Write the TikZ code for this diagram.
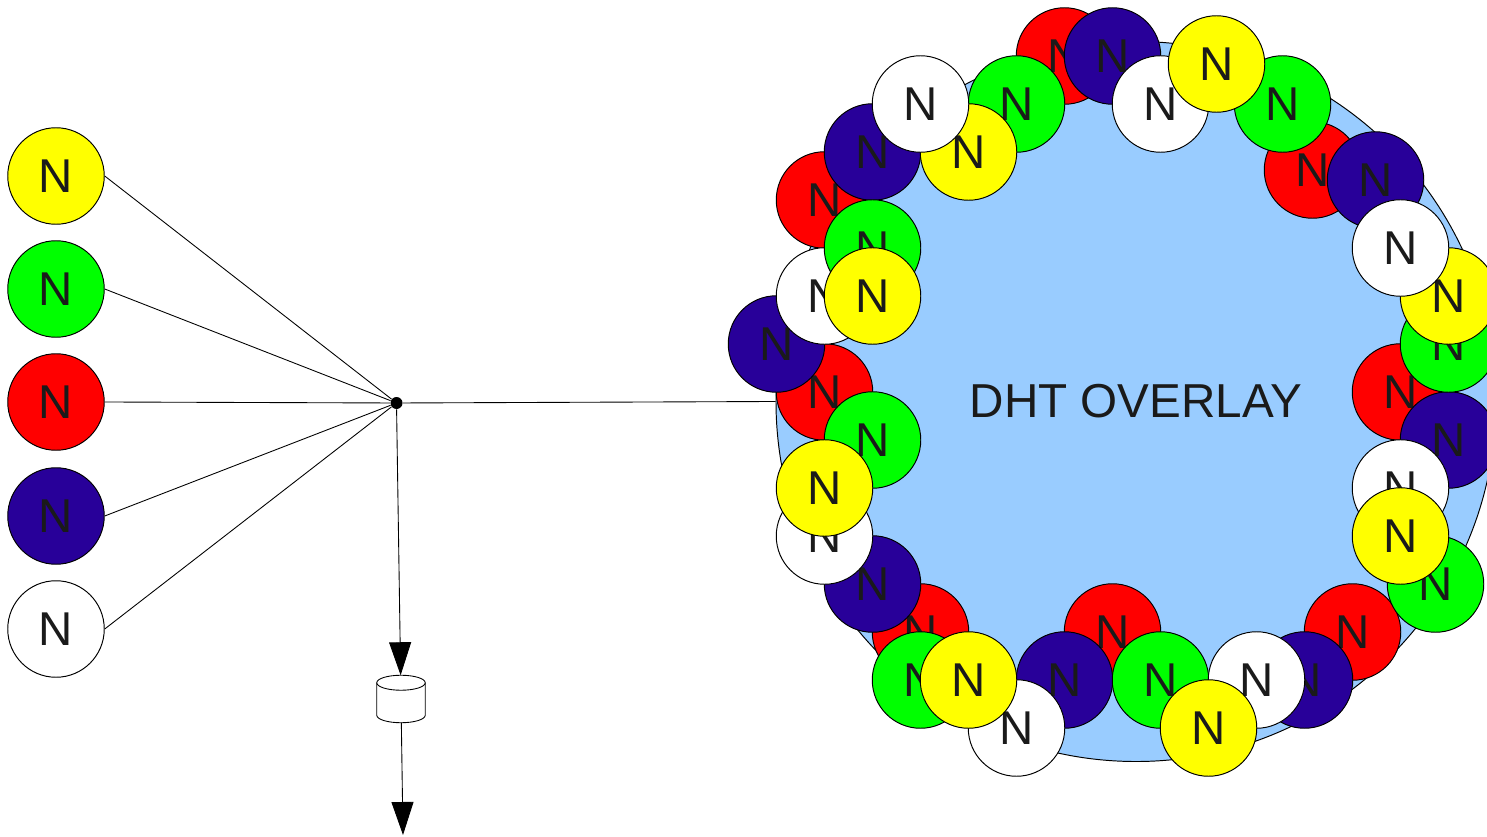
\documentclass[tikz,border=0pt]{standalone}
\usepackage{fontspec}
\setmainfont{Liberation Sans}
\usepackage{xcolor}
\usetikzlibrary{arrows.meta}
\definecolor{peerred}{HTML}{FF0000}
\definecolor{peergreen}{HTML}{00FF00}
\definecolor{peeryellow}{HTML}{FFFF00}
\definecolor{peerblue}{HTML}{280099}
\definecolor{ringblue}{HTML}{99CCFF}
\definecolor{inkgray}{HTML}{1A1A1A}
\tikzset{
  peer/.style={circle,draw=black,line width=0.55pt,minimum size=1.93cm,inner sep=0pt,text=inkgray,font=\fontsize{27}{27}\selectfont},
  link/.style={draw=black,line width=0.5pt},
  bigtip/.style={-{Triangle[length=0.66cm,width=0.44cm]}}
}
\begin{document}
\begin{tikzpicture}[scale=0.2]
\useasboundingbox (0,0) rectangle (148.7,-83.7);
\node [circle,draw=black,line width=0.55pt,fill=ringblue,minimum size=14.4cm,inner sep=0pt,text=inkgray,font=\fontsize{27.1}{27}\selectfont] (ring) at (113.6,-40.15) {DHT OVERLAY};
% left column
\node [peer,fill=peeryellow] (left1) at (5.6,-17.6) {N};
\node [peer,fill=peergreen] (left2) at (5.6,-28.9) {N};
\node [peer,fill=peerred] (left3) at (5.6,-40.2) {N};
\node [peer,fill=peerblue] (left4) at (5.6,-51.6) {N};
\node [peer,fill=white] (left5) at (5.6,-62.9) {N};
\node [circle,fill=black,minimum size=0.24cm,inner sep=0pt] (hub) at (39.65,-40.3) {};
\node [rectangle,minimum width=0.97cm,minimum height=0.95cm,inner sep=0pt,outer sep=0pt] (store) at (40.1,-69.9) {};
\coordinate (out) at (40.3,-83.5);
\draw [link] (store.north west) ++(0,-0.75) arc (180:0:2.425 and 0.75) -- ++(0,-3.25) arc (0:-180:2.425 and 0.75) -- cycle;
\draw [link] (store.north west) ++(0,-0.75) arc (180:360:2.425 and 0.75);
\draw [link] (left1.east) -- (hub);
\draw [link] (left2.east) -- (hub);
\draw [link] (left3.east) -- (hub);
\draw [link] (left4.east) -- (hub);
\draw [link] (left5.east) -- (hub);
\draw [link] (hub) -- (ring.west);
\draw [link,bigtip] (hub) -- (store);
\draw [link,bigtip] (store) -- (out);
% red
\node [peer,fill=peerred] (red1) at (106.45,-5.6) {N};
\node [peer,fill=peerred] (red2) at (131.25,-17) {N};
\node [peer,fill=peerred] (red3) at (82.45,-20) {N};
\node [peer,fill=peerred] (red4) at (140.05,-39.2) {N};
\node [peer,fill=peerred] (red5) at (82.45,-39.2) {N};
\node [peer,fill=peerred] (red6) at (92.05,-63.2) {N};
\node [peer,fill=peerred] (red7) at (111.25,-63.2) {N};
\node [peer,fill=peerred] (red8) at (135.25,-63.2) {N};
% blue
\node [peer,fill=peerblue] (blue1) at (111.25,-5.6) {N};
\node [peer,fill=peerblue] (blue2) at (137.55,-18) {N};
\node [peer,fill=peerblue] (blue3) at (87.25,-15.2) {N};
\node [peer,fill=peerblue] (blue4) at (144.85,-44) {N};
\node [peer,fill=peerblue] (blue5) at (77.65,-34.4) {N};
\node [peer,fill=peerblue] (blue6) at (87.25,-58.4) {N};
\node [peer,fill=peerblue] (blue7) at (106.45,-68) {N};
\node [peer,fill=peerblue] (blue8) at (130.45,-68) {N};
% green
\node [peer,fill=peergreen] (green1) at (101.65,-10.4) {N};
\node [peer,fill=peergreen] (green2) at (128.25,-10.4) {N};
\node [peer,fill=peergreen] (green3) at (144.85,-34.4) {N};
\node [peer,fill=peergreen] (green4) at (87.25,-44) {N};
\node [peer,fill=peergreen] (green5) at (143.55,-58.4) {N};
\node [peer,fill=peergreen] (green6) at (92.05,-68) {N};
\node [peer,fill=peergreen] (green7) at (116.05,-68) {N};
% yellow under the white ones
\node [peer,fill=peeryellow] (yellow1) at (96.85,-15.2) {N};
\node [peer,fill=peeryellow] (yellow2) at (144.85,-29.6) {N};
% white
\node [peer,fill=white] (white1) at (116.05,-10.4) {N};
\node [peer,fill=white] (white2) at (140.05,-24.8) {N};
\node [peer,fill=white] (white3) at (92.05,-10.4) {N};
\node [peer,fill=white] (white4) at (82.45,-29.6) {N};
\node [peer,fill=white] (white5) at (140.05,-48.8) {N};
\node [peer,fill=white] (white6) at (82.45,-53.6) {N};
\node [peer,fill=white] (white7) at (101.65,-72.8) {N};
\node [peer,fill=white] (white8) at (125.65,-68) {N};
% top layer
\node [peer,fill=peergreen] (green8) at (87.25,-24.8) {N};
\node [peer,fill=peeryellow] (yellow3) at (121.65,-6.4) {N};
\node [peer,fill=peeryellow] (yellow4) at (87.25,-29.6) {N};
\node [peer,fill=peeryellow] (yellow5) at (82.45,-48.8) {N};
\node [peer,fill=peeryellow] (yellow6) at (140.05,-53.6) {N};
\node [peer,fill=peeryellow] (yellow7) at (96.85,-68) {N};
\node [peer,fill=peeryellow] (yellow8) at (120.85,-72.8) {N};
\end{tikzpicture}
\end{document}
